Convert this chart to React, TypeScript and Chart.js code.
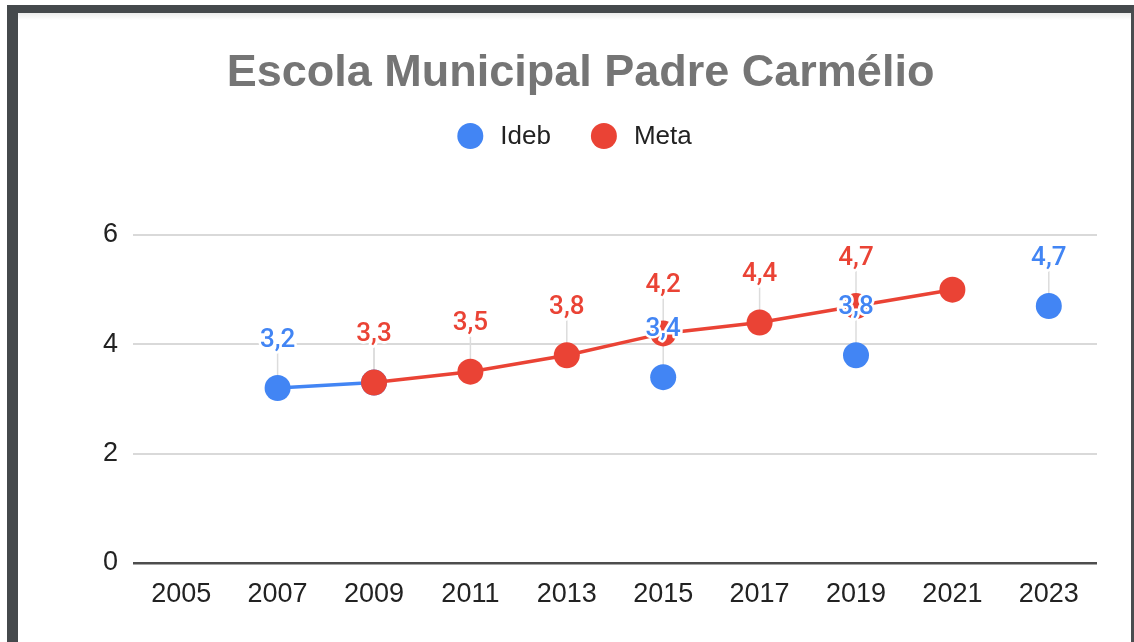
import React, { useEffect, useRef } from "react";
import { Chart, registerables } from "chart.js";

Chart.register(...registerables);

const TITLE = "Escola Municipal Padre Carmélio";
const years = ["2005", "2007", "2009", "2011", "2013", "2015", "2017", "2019", "2021", "2023"];
const idebValues: (number | null)[] = [null, 3.2, 3.3, null, null, 3.4, null, 3.8, null, 4.7];
const metaValues: (number | null)[] = [null, null, 3.3, 3.5, 3.8, 4.2, 4.4, 4.7, 5.0, null];
const idebLabels = ["", "3,2", "3,3", "", "", "3,4", "", "3,8", "", "4,7"];
const metaLabels = ["", "", "3,3", "3,5", "3,8", "4,2", "4,4", "4,7", "", ""];
const yTicks = [0, 2, 4, 6];

const BLUE = "#4285F4";
const RED = "#EA4335";
const TICK_FONT = "'Liberation Sans', Arial, sans-serif";

const seriesLabels = [idebLabels, metaLabels];
const seriesColors = [BLUE, RED];

const annotationPlugin = {
  id: "annotations",
  beforeDatasetsDraw(chart: any) {
    const ctx = chart.ctx;
    ctx.save();
    ctx.strokeStyle = "#dcdcdc";
    ctx.lineWidth = 1.5;
    chart.data.datasets.forEach((_: any, di: number) => {
      const meta = chart.getDatasetMeta(di);
      meta.data.forEach((pt: any, i: number) => {
        const txt = seriesLabels[di][i];
        if (!txt || pt.skip) return;
        ctx.beginPath();
        ctx.moveTo(pt.x, pt.y);
        ctx.lineTo(pt.x, pt.y - 48 + 13);
        ctx.stroke();
      });
    });
    ctx.restore();
  },
  afterDatasetsDraw(chart: any) {
    const ctx = chart.ctx;
    ctx.save();
    ctx.font = "500 26px Roboto, sans-serif";
    ctx.textAlign = "center";
    ctx.textBaseline = "middle";
    ctx.lineJoin = "round";
    [0, 1].forEach((di) => {
      const meta = chart.getDatasetMeta(di);
      meta.data.forEach((pt: any, i: number) => {
        const txt = seriesLabels[di][i];
        if (!txt || pt.skip) return;
        const y = pt.y - 48;
        ctx.strokeStyle = "#ffffff";
        ctx.lineWidth = 5;
        ctx.strokeText(txt, pt.x, y);
        ctx.fillStyle = seriesColors[di];
        ctx.fillText(txt, pt.x, y);
      });
    });
    ctx.restore();
  },
};

const headerPlugin = {
  id: "header",
  afterDraw(chart: any) {
    const ctx = chart.ctx;
    const w = chart.width;
    ctx.save();
    ctx.textBaseline = "middle";
    ctx.textAlign = "center";
    ctx.fillStyle = "#757575";
    ctx.font = `bold 45px ${TICK_FONT}`;
    ctx.fillText(TITLE, w / 2 + 6, 61);

    ctx.font = `26px ${TICK_FONT}`;
    const names = ["Ideb", "Meta"];
    const r = 13;
    const gapText = 17;
    const gapItem = 40;
    const widths = names.map((n) => ctx.measureText(n).width);
    const total = widths.reduce((a, b) => a + b, 0) + names.length * (2 * r + gapText) + gapItem * (names.length - 1);
    let x = w / 2 - total / 2;
    const y = 123;
    ctx.textAlign = "left";
    names.forEach((n, i) => {
      ctx.fillStyle = seriesColors[i];
      ctx.beginPath();
      ctx.arc(x + r, y, r, 0, Math.PI * 2);
      ctx.fill();
      x += 2 * r + gapText;
      ctx.fillStyle = "#222222";
      ctx.fillText(n, x, y + 1);
      x += widths[i] + gapItem;
    });
    ctx.restore();
  },
};

export default function App() {
  const ref = useRef<HTMLCanvasElement | null>(null);

  useEffect(() => {
    if (!ref.current) return;
    const chart = new Chart(ref.current, {
      type: "line",
      data: {
        labels: years,
        datasets: [
          {
            label: "Ideb",
            data: idebValues,
            borderColor: BLUE,
            backgroundColor: BLUE,
            pointBackgroundColor: BLUE,
            pointBorderWidth: 0,
            pointRadius: 13,
            pointHoverRadius: 13,
            borderWidth: 3.5,
            spanGaps: false,
            order: 1,
          },
          {
            label: "Meta",
            data: metaValues,
            borderColor: RED,
            backgroundColor: RED,
            pointBackgroundColor: RED,
            pointBorderWidth: 0,
            pointRadius: 13,
            pointHoverRadius: 13,
            borderWidth: 3.5,
            spanGaps: false,
            order: 0,
          },
        ],
      },
      options: {
        responsive: false,
        maintainAspectRatio: false,
        animation: false,
        layout: { padding: { top: 222, right: 34, bottom: 0, left: 0 } },
        plugins: {
          legend: { display: false },
          title: { display: false },
          tooltip: { enabled: false },
        },
        scales: {
          x: {
            offset: true,
            grid: { display: false, drawTicks: false },
            border: { display: false },
            ticks: {
              color: "#222222",
              font: { family: TICK_FONT, size: 27 },
              padding: 15,
              maxRotation: 0,
              autoSkip: false,
            },
            afterFit: (s: any) => {
              s.height = 79;
            },
          },
          y: {
            min: 0,
            max: 6,
            afterBuildTicks: (s: any) => {
              s.ticks = yTicks.map((v) => ({ value: v }));
            },
            grid: {
              drawTicks: false,
              color: (c: any) => (c.tick && c.tick.value === 0 ? "#4d4d4d" : "#d9d9d9"),
              lineWidth: (c: any) => (c.tick && c.tick.value === 0 ? 2.5 : 2),
            },
            border: { display: false },
            ticks: {
              color: "#222222",
              font: { family: TICK_FONT, size: 27 },
              padding: 15,
            },
            afterFit: (s: any) => {
              s.width = 115;
            },
          },
        },
      },
      plugins: [annotationPlugin, headerPlugin],
    });
    return () => chart.destroy();
  }, []);

  return (
    <div style={{ position: "fixed", left: 0, top: 0, width: 1134, height: 642, background: "#ffffff", overflow: "hidden" }}>
      <div
        style={{
          position: "absolute",
          left: 7,
          top: 5,
          width: 1134 - 7,
          height: 642 - 5,
          boxSizing: "border-box",
          borderTop: "8px solid #45494c",
          borderLeft: "11px solid #45494c",
          borderRight: "3px solid #4a4d50",
          background: "linear-gradient(to bottom, #ececec 0px, #ffffff 7px)",
        }}
      >
        <canvas ref={ref} width={1113} height={629} style={{ display: "block", width: 1113, height: 629 }} />
      </div>
    </div>
  );
}
